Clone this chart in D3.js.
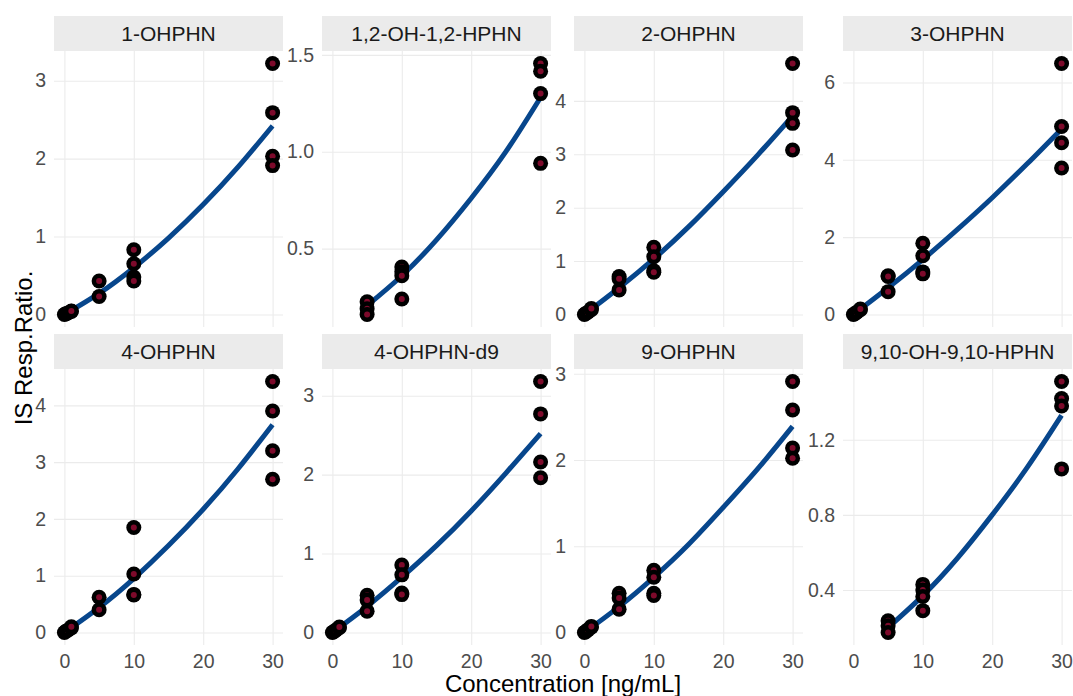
<!DOCTYPE html>
<html>
<head>
<meta charset="utf-8">
<script src="https://cdn.jsdelivr.net/npm/d3@7"></script>
<style>
  body { margin: 0; background: #fff; }
  text { font-family: "Liberation Sans", Arial, sans-serif; }
</style>
</head>
<body>
<svg id="chart" width="1073" height="696"></svg>
<script>
/* Calibration data: [concentration, IS response ratio] per analyte */
var ohphn1 = [[0,0],[0.2,0.008],[0.5,0.02],[1,0.04],[1,0.045],[5,0.43],[5,0.23],[10,0.83],[10,0.65],[10,0.48],[10,0.43],[30,3.22],[30,2.59],[30,2.03],[30,1.91]]
var ohphn12 = [[5,0.225],[5,0.19],[5,0.16],[10,0.405],[10,0.38],[10,0.36],[10,0.24],[30,1.455],[30,1.415],[30,1.30],[30,0.94]]
var ohphn2 = [[0,0],[0.2,0.02],[0.5,0.04],[1,0.09],[1,0.11],[5,0.71],[5,0.67],[5,0.46],[10,1.26],[10,1.08],[10,0.82],[10,0.79],[30,4.70],[30,3.78],[30,3.58],[30,3.08]]
var ohphn3 = [[0,0],[0.2,0.02],[0.5,0.06],[1,0.12],[1,0.14],[5,1.0],[5,0.98],[5,0.59],[10,1.84],[10,1.52],[10,1.1],[10,1.05],[30,6.49],[30,4.86],[30,4.44],[30,3.79]]
var ohphn4 = [[0,0],[0.2,0.02],[0.5,0.04],[1,0.08],[1,0.1],[5,0.62],[5,0.40],[10,1.85],[10,1.03],[10,0.67],[10,0.66],[30,4.42],[30,3.90],[30,3.20],[30,2.70]]
var ohphn4d9 = [[0,0],[0.2,0.01],[0.5,0.03],[1,0.06],[1,0.07],[5,0.47],[5,0.41],[5,0.27],[10,0.855],[10,0.73],[10,0.50],[10,0.48],[30,3.18],[30,2.77],[30,2.16],[30,1.96]]
var ohphn9 = [[0,0],[0.2,0.01],[0.5,0.03],[1,0.06],[1,0.07],[5,0.455],[5,0.40],[5,0.27],[10,0.72],[10,0.64],[10,0.455],[10,0.43],[30,2.91],[30,2.58],[30,2.14],[30,2.02]]
var ohphn910 = [[5,0.236],[5,0.21],[5,0.174],[10,0.43],[10,0.40],[10,0.366],[10,0.29],[30,1.51],[30,1.42],[30,1.38],[30,1.045]]

/* Fitted curves at these concentrations */
var curveX = [0, 5, 10, 15, 20, 25, 30]
var curveXFrom5 = [5, 10, 15, 20, 25, 30]
var fit1 = [0, 0.27, 0.6, 0.98, 1.41, 1.89, 2.42]
var fit12 = [0.206, 0.36, 0.545, 0.76, 1.0, 1.28]
var fit2 = [0, 0.5, 1.04, 1.64, 2.3, 2.99, 3.72]
var fit3 = [0, 0.69, 1.42, 2.2, 3.02, 3.89, 4.8]
var fit4 = [0, 0.44, 0.95, 1.53, 2.17, 2.88, 3.66]
var fit4d9 = [0, 0.33, 0.7, 1.1, 1.54, 2.02, 2.52]
var fit9 = [0, 0.3, 0.64, 1.02, 1.45, 1.9, 2.39]
var fit910 = [0.2, 0.37, 0.57, 0.8, 1.05, 1.33]

/* Tick labels */
var xTicks = [0, 10, 20, 30]
var names = ['1-OHPHN', '1,2-OH-1,2-HPHN', '2-OHPHN', '3-OHPHN', '4-OHPHN', '4-OHPHN-d9', '9-OHPHN', '9,10-OH-9,10-HPHN']
var yTicks = [[0,1,2,3], [0.5,1.0,1.5], [0,1,2,3,4], [0,2,4,6], [0,1,2,3,4], [0,1,2,3], [0,1,2,3], [0.4,0.8,1.2]]
var yDecimals = [0, 1, 0, 0, 0, 0, 0, 1]

var pointSets = [ohphn1, ohphn12, ohphn2, ohphn3, ohphn4, ohphn4d9, ohphn9, ohphn910]
var fitSets = [[curveX, fit1], [curveXFrom5, fit12], [curveX, fit2], [curveX, fit3],
	[curveX, fit4], [curveX, fit4d9], [curveX, fit9], [curveXFrom5, fit910]]

/* Layout */
var colLeft = [54, 322, 574, 843]
var panelW = 229
var stripTop = [16, 334]
var stripH = 35
var panelH = 276

var svg = d3.select('#chart')

names.forEach(function(name, i) {
	var col = i % 4, row = Math.floor(i / 4)
	var left = colLeft[col]
	var top = stripTop[row] + stripH
	var bottom = top + panelH
	var pts = pointSets[i]

	var x = d3.scaleLinear().domain([-1.5, 31.5]).range([left, left + panelW])
	var ext = d3.extent(pts, function(d) { return d[1] })
	var pad = (ext[1] - ext[0]) * 0.05
	var y = d3.scaleLinear().domain([ext[0] - pad, ext[1] + pad]).range([bottom, top])

	/* strip */
	svg.append('rect')
		.attr('x', left).attr('y', stripTop[row])
		.attr('width', panelW).attr('height', stripH)
		.attr('fill', '#ebebeb')
	svg.append('text')
		.attr('x', left + panelW / 2).attr('y', stripTop[row] + stripH / 2)
		.attr('dy', '0.36em')
		.attr('text-anchor', 'middle')
		.attr('font-size', '21px')
		.attr('fill', '#1a1a1a')
		.text(name)

	/* grid + tick labels */
	var yAxis = svg.append('g')
		.attr('transform', 'translate(' + left + ',0)')
		.call(d3.axisLeft(y).tickValues(yTicks[i]).tickSize(-panelW).tickPadding(8)
			.tickFormat(d3.format('.' + yDecimals[i] + 'f')))
	var xAxis = svg.append('g')
		.attr('transform', 'translate(0,' + bottom + ')')
		.call(d3.axisBottom(x).tickValues(xTicks).tickSize(-panelH).tickPadding(9)
			.tickFormat(row == 1 ? d3.format('d') : function() { return '' }))

	;[xAxis, yAxis].forEach(function(ax) {
		ax.select('.domain').remove()
		ax.selectAll('line').attr('stroke', '#ebebeb').attr('stroke-width', 1.1)
		ax.selectAll('text').attr('fill', '#4d4d4d').attr('font-size', '19.5px')
			.style('font-family', '"Liberation Sans", Arial, sans-serif')
	})

	/* fitted curve */
	var fx = fitSets[i][0], fy = fitSets[i][1]
	var line = d3.line()
		.x(function(d, k) { return x(fx[k]) })
		.y(function(d) { return y(d) })
		.curve(d3.curveNatural)
	svg.append('path')
		.datum(fy)
		.attr('d', line)
		.attr('fill', 'none')
		.attr('stroke', '#07468c')
		.attr('stroke-width', 5)

	/* points: black ring with dark red centre */
	var p = svg.append('g').selectAll('g').data(pts).enter().append('g')
		.attr('transform', function(d) { return 'translate(' + x(d[0]) + ',' + y(d[1]) + ')' })
	p.append('circle').attr('r', 7.5).attr('fill', '#000')
	p.append('circle').attr('r', 3).attr('fill', '#7d0a2b')
})

/* axis titles */
svg.append('text')
	.attr('x', 563).attr('y', 692)
	.attr('text-anchor', 'middle')
	.attr('font-size', '24px')
	.attr('fill', '#000')
	.text('Concentration [ng/mL]')
svg.append('text')
	.attr('transform', 'translate(32,348) rotate(-90)')
	.attr('text-anchor', 'middle')
	.attr('font-size', '24px')
	.attr('fill', '#000')
	.text('IS Resp.Ratio.')
</script>
</body>
</html>
